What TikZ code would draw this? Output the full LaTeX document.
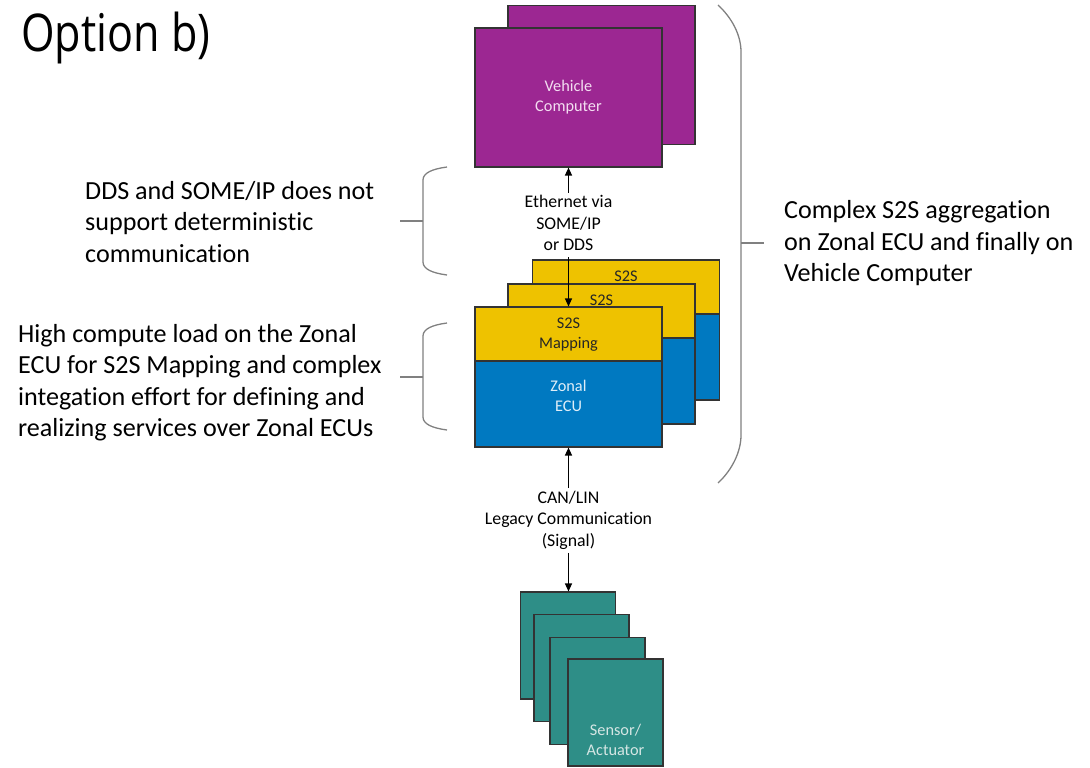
\documentclass[tikz,border=0pt]{standalone}
\usepackage{fontspec}
\usepackage{graphicx}
\setmainfont{Carlito}[Ligatures=NoCommon]
\newfontfamily\titlefont{Open Sans}
\usetikzlibrary{arrows.meta,calc}
\definecolor{vcpurple}{HTML}{9C2792}
\definecolor{s2syellow}{HTML}{EEC200}
\definecolor{ecublue}{HTML}{0079C1}
\definecolor{senteal}{HTML}{2E8E87}
\definecolor{edgegray}{HTML}{333333}
\definecolor{bracegray}{HTML}{808080}
\definecolor{vctext}{HTML}{F3DDF1}
\definecolor{ecutext}{HTML}{E0EEF8}
\definecolor{sentext}{HTML}{D5E6E4}
\begin{document}
\begin{tikzpicture}[x=1pt,y=-1pt,
  box/.style={draw=edgegray,line width=1.1pt,inner sep=0pt,align=center,
    font=\fontsize{16.3}{20}\selectfont},
  vcbox/.style={box,fill=vcpurple,minimum width=187pt,minimum height=139pt,text=vctext},
  s2sbox/.style={box,fill=s2syellow,minimum width=187pt,minimum height=54pt,text=black!85},
  ecubox/.style={box,fill=ecublue,minimum width=187pt,minimum height=86pt,text=ecutext},
  senbox/.style={box,fill=senteal,minimum width=95pt,minimum height=107pt,text=sentext},
  plain/.style={inner sep=0pt,align=center,font=\fontsize{16.3}{20}\selectfont},
  connlabel/.style={inner sep=0pt,align=center,font=\fontsize{17.8}{21.5}\selectfont},
  bigtext/.style={inner sep=0pt,align=left,anchor=west,font=\fontsize{26.1}{31.5}\selectfont},
  conn/.style={-{Triangle[width=7pt,length=8pt]},line width=1.2pt,black},
  brace/.style={draw=bracegray,line width=1.3pt}
]
\useasboundingbox (0,0) rectangle (1090,768);

% title
\node[inner sep=0pt,anchor=base west] (title) at (21,52)
  {\resizebox{189pt}{\height}{\titlefont\fontsize{52}{60}\selectfont Option b)}};

% vehicle computer
\node[vcbox] (vc2) at (601.5,75) {};
\node[vcbox] (vc1) at (568.5,97.5) {\strut Vehicle\\\strut Computer};

% zonal ECU stack (back to front)
\node[ecubox] (ecu3) at (626,357) {};
\node[s2sbox] (s2s3) at (626,287) {\strut S2S\\\strut};
\node[ecubox] (ecu2) at (601.5,381) {};
\node[s2sbox] (s2s2) at (601.5,311) {\strut S2S\\\strut};
\node[ecubox] (ecu1) at (568.5,404) {};
\node[s2sbox] (s2s1) at (568.5,334) {\strut S2S\\\strut Mapping};
\node[plain,text=ecutext] (ecu1label) at ($(ecu1.center)+(0,-7)$) {\strut Zonal\\\strut ECU};

% sensors / actuators
\node[senbox] (sen1) at (568,645.5) {};
\node[senbox] (sen2) at (581.5,668) {};
\node[senbox] (sen3) at (597.5,691) {};
\node[senbox] (sen4) at (615.5,712.5) {};
\node[plain,text=sentext,anchor=south] (senlabel) at ($(sen4.south)+(0,-5)$) {\strut Sensor/\\\strut Actuator};

% connector labels
\node[connlabel] (eth) at (568.5,225) {\strut Ethernet via\\\strut SOME/IP\\\strut or DDS};
\node[connlabel] (can) at (568.5,520.5) {\strut CAN/LIN\\\strut Legacy Communication\\\strut (Signal)};

% connectors
\draw[conn] (eth.north) -- (vc1.south);
\draw[conn] (eth.south) -- (s2s1.north);
\draw[conn] (can.north) -- (ecu1.south);
\draw[conn] (can.south) -- (can.south |- sen1.north);

% annotations
\node[bigtext] (note1) at (85,224.2) {\strut DDS and SOME/IP does not\\\strut support deterministic\\\strut communication};
\node[bigtext] (note2) at (18,383.2) {\strut High compute load on the Zonal\\\strut ECU for S2S Mapping and complex\\\strut integation effort for defining and\\\strut realizing services over Zonal ECUs};
\node[bigtext] (note3) at (784,243.7) {\strut Complex S2S aggregation\\\strut on Zonal ECU and finally on\\\strut Vehicle Computer};

% braces
\draw[brace] (447,167) .. controls (432,169) and (423,173) .. (423,180) -- (423,262)
  .. controls (423,269) and (432,273) .. (447,275);
\draw[brace] (400,221) -- (423,221);
\draw[brace] (447,323) .. controls (432,325) and (423,329) .. (423,336) -- (423,417)
  .. controls (423,424) and (432,428) .. (447,430);
\draw[brace] (400,377) -- (423,377);
\draw[brace] (718,5) .. controls (732,18) and (741,35) .. (741,52) -- (741,435)
  .. controls (741,452) and (732,470) .. (718,483);
\draw[brace] (741,243) -- (764,243);
\end{tikzpicture}
\end{document}
